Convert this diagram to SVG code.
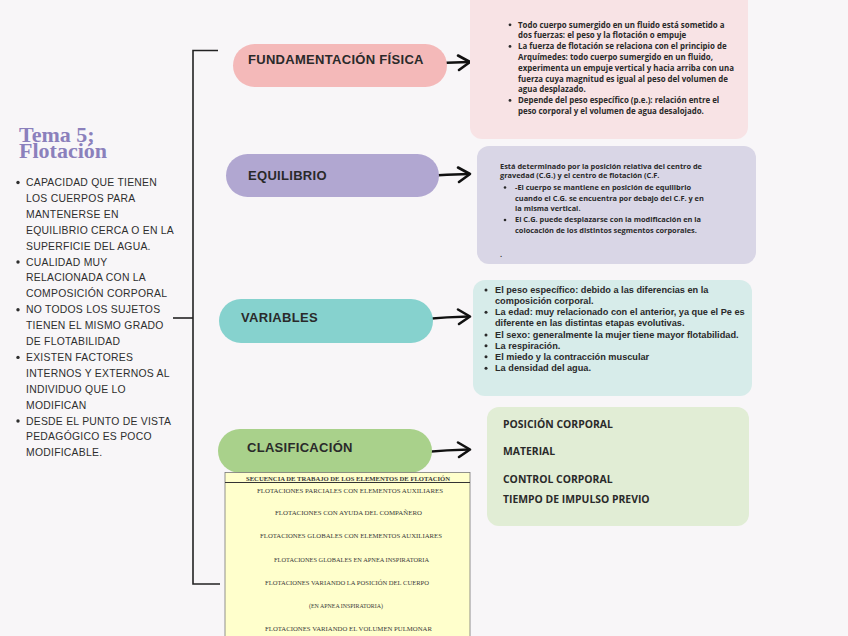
<svg xmlns="http://www.w3.org/2000/svg" width="848" height="636" viewBox="0 0 848 636">
<style>
.bg{fill:#f8f6f8}
.pill{font-family:"Liberation Sans",Arial,sans-serif;font-weight:bold;font-size:13px;fill:#2a2a2a;letter-spacing:0.3px}
.bx{font-family:"Open Sans","Noto Sans",sans-serif;font-weight:bold;fill:#2a2a2a}
.b1{font-size:7.9px}
.b2{font-size:7.4px}
.b3{font-family:"Liberation Sans",Arial,sans-serif;font-size:9.2px}
.b4{font-size:10.4px}
.lst{font-family:"Liberation Sans",Arial,sans-serif;font-size:10.4px;fill:#2e2e2e;letter-spacing:0.25px}
.ttl{font-family:"Liberation Serif","Times New Roman",serif;font-weight:bold;font-size:22px;fill:#8b80bc}
.tb{font-family:"Liberation Serif","Times New Roman",serif;font-size:7px;fill:#3a3a3a}
.con{fill:none;stroke:#111;stroke-width:2.6;stroke-linecap:round;stroke-linejoin:round}
.brk{fill:none;stroke:#222;stroke-width:1.6}
</style>
<rect class="bg" x="0" y="0" width="848" height="636"/>

<g id="title">
<text class="ttl" x="19" y="141.5">Tema 5;<tspan x="19" y="157.5">Flotación</tspan></text>
</g>

<g id="intro-list">
<g fill="#2e2e2e">
<circle cx="18" cy="182.5" r="1.7"/>
<circle cx="18" cy="262" r="1.7"/>
<circle cx="18" cy="309.7" r="1.7"/>
<circle cx="18" cy="357.4" r="1.7"/>
<circle cx="18" cy="421" r="1.7"/>
</g>
<text class="lst" x="26" y="186">CAPACIDAD QUE TIENEN</text>
<text class="lst" x="26" y="201.9">LOS CUERPOS PARA</text>
<text class="lst" x="26" y="217.8">MANTENERSE EN</text>
<text class="lst" x="26" y="233.7">EQUILIBRIO CERCA O EN LA</text>
<text class="lst" x="26" y="249.6">SUPERFICIE DEL AGUA.</text>
<text class="lst" x="26" y="265.5">CUALIDAD MUY</text>
<text class="lst" x="26" y="281.4">RELACIONADA CON LA</text>
<text class="lst" x="26" y="297.3">COMPOSICIÓN CORPORAL</text>
<text class="lst" x="26" y="313.2">NO TODOS LOS SUJETOS</text>
<text class="lst" x="26" y="329.1">TIENEN EL MISMO GRADO</text>
<text class="lst" x="26" y="345">DE FLOTABILIDAD</text>
<text class="lst" x="26" y="360.9">EXISTEN FACTORES</text>
<text class="lst" x="26" y="376.8">INTERNOS Y EXTERNOS AL</text>
<text class="lst" x="26" y="392.7">INDIVIDUO QUE LO</text>
<text class="lst" x="26" y="408.6">MODIFICAN</text>
<text class="lst" x="26" y="424.5">DESDE EL PUNTO DE VISTA</text>
<text class="lst" x="26" y="440.4">PEDAGÓGICO ES POCO</text>
<text class="lst" x="26" y="456.3">MODIFICABLE.</text>
</g>

<g id="connectors">
<path class="brk" d="M218,50.5 H193 V584 H220"/>
<path class="brk" d="M173,318 H193"/>
<path class="con" d="M425,64 Q447,62.5 469,62"/>
<path class="con" d="M458,55.5 L470,62 L459,70"/>
<path class="con" d="M425,176 Q447,174.5 469,174"/>
<path class="con" d="M458,167.5 L470,174 L459,182"/>
<path class="con" d="M425,319 Q447,317 469,316.5"/>
<path class="con" d="M458,309.5 L470,316.5 L459,324"/>
<path class="con" d="M425,452 Q447,450 469,449.5"/>
<path class="con" d="M458,442.5 L470,449.5 L459,457"/>
</g>

<g id="node-fundamentacion">
<rect x="233" y="44" width="214" height="43" rx="21.5" fill="#f4b9b9"/>
<text class="pill" x="248" y="64">FUNDAMENTACIÓN FÍSICA</text>
</g>

<g id="node-equilibrio">
<rect x="226" y="154" width="213" height="43" rx="21.5" fill="#b1a7d1"/>
<text class="pill" x="248" y="180">EQUILIBRIO</text>
</g>

<g id="node-variables">
<rect x="219" y="299" width="214" height="44" rx="22" fill="#86d2ce"/>
<text class="pill" x="241" y="322">VARIABLES</text>
</g>

<g id="node-clasificacion">
<rect x="218" y="429" width="214" height="44" rx="22" fill="#a9d18b"/>
<text class="pill" x="247" y="452">CLASIFICACIÓN</text>
</g>

<g id="box-fundamentacion">
<rect x="470" y="-12" width="278" height="151" rx="12" fill="#f8e3e5"/>
<g fill="#2a2a2a">
<circle cx="510" cy="24.8" r="1.4"/>
<circle cx="510" cy="46.4" r="1.4"/>
<circle cx="510" cy="100.4" r="1.4"/>
</g>
<text class="bx b1" x="518" y="27.5">Todo cuerpo sumergido en un fluido está sometido a</text>
<text class="bx b1" x="518" y="38.3">dos fuerzas: el peso y la flotación o empuje</text>
<text class="bx b1" x="518" y="49.1">La fuerza de flotación se relaciona con el principio de</text>
<text class="bx b1" x="518" y="59.9">Arquímedes: todo cuerpo sumergido en un fluido,</text>
<text class="bx b1" x="518" y="70.7">experimenta un empuje vertical y hacia arriba con una</text>
<text class="bx b1" x="518" y="81.5">fuerza cuya magnitud es igual al peso del volumen de</text>
<text class="bx b1" x="518" y="92.3">agua desplazado.</text>
<text class="bx b1" x="518" y="103.1">Depende del peso específico (p.e.): relación entre el</text>
<text class="bx b1" x="518" y="113.9">peso corporal y el volumen de agua desalojado.</text>
</g>

<g id="box-equilibrio">
<rect x="477" y="146" width="279" height="118" rx="12" fill="#d9d6e6"/>
<g fill="#2a2a2a">
<circle cx="505" cy="187.5" r="1.3"/>
<circle cx="505" cy="220" r="1.3"/>
</g>
<text class="bx b2" x="500" y="168.5">Está determinado por la posición relativa del centro de</text>
<text class="bx b2" x="500" y="177.5">gravedad (C.G.) y el centro de flotación (C.F.</text>
<text class="bx b2" x="515" y="190">-El cuerpo se mantiene en posición de equilibrio</text>
<text class="bx b2" x="515" y="200.6">cuando el C.G. se encuentra por debajo del C.F. y en</text>
<text class="bx b2" x="515" y="211.2">la misma vertical.</text>
<text class="bx b2" x="515" y="222.4">El C.G. puede desplazarse con la modificación en la</text>
<text class="bx b2" x="515" y="233">colocación de los distintos segmentos corporales.</text>
<text class="bx b2" x="500" y="257">.</text>
</g>

<g id="box-variables">
<rect x="473" y="280" width="279" height="116" rx="12" fill="#d7ecea"/>
<g fill="#2a2a2a">
<circle cx="486" cy="290" r="1.5"/>
<circle cx="486" cy="312.3" r="1.5"/>
<circle cx="486" cy="335" r="1.5"/>
<circle cx="486" cy="345.8" r="1.5"/>
<circle cx="486" cy="356.8" r="1.5"/>
<circle cx="486" cy="368.3" r="1.5"/>
</g>
<text class="bx b3" x="495" y="293">El peso específico: debido a las diferencias en la</text>
<text class="bx b3" x="495" y="304">composición corporal.</text>
<text class="bx b3" x="495" y="315.3">La edad: muy relacionado con el anterior, ya que el Pe es</text>
<text class="bx b3" x="495" y="326.3">diferente en las distintas etapas evolutivas.</text>
<text class="bx b3" x="495" y="338">El sexo: generalmente la mujer tiene mayor flotabilidad.</text>
<text class="bx b3" x="495" y="348.8">La respiración.</text>
<text class="bx b3" x="495" y="359.8">El miedo y la contracción muscular</text>
<text class="bx b3" x="495" y="371.3">La densidad del agua.</text>
</g>

<g id="box-clasificacion">
<rect x="487" y="407" width="262" height="119" rx="12" fill="#e1edd5"/>
<text class="bx b4" x="503" y="427.5">POSICIÓN CORPORAL</text>
<text class="bx b4" x="503" y="454.5">MATERIAL</text>
<text class="bx b4" x="503" y="482.5">CONTROL CORPORAL</text>
<text class="bx b4" x="503" y="502.5">TIEMPO DE IMPULSO PREVIO</text>
</g>

<g id="table-secuencia">
<rect x="225" y="472.5" width="245" height="175" fill="#ffffcc" stroke="#777" stroke-width="0.8"/>
<line x1="225" y1="482.5" x2="470" y2="482.5" stroke="#333" stroke-width="1"/>
<text class="tb" x="348" y="480.5" text-anchor="middle" font-weight="bold" textLength="204" lengthAdjust="spacingAndGlyphs">SECUENCIA DE TRABAJO DE LOS ELEMENTOS DE FLOTACIÓN</text>
<text class="tb" x="350" y="493" text-anchor="middle" textLength="186" lengthAdjust="spacingAndGlyphs">FLOTACIONES PARCIALES CON ELEMENTOS AUXILIARES</text>
<text class="tb" x="348.5" y="514.5" text-anchor="middle" textLength="147" lengthAdjust="spacingAndGlyphs">FLOTACIONES CON AYUDA DEL COMPAÑERO</text>
<text class="tb" x="351" y="538" text-anchor="middle" textLength="182" lengthAdjust="spacingAndGlyphs">FLOTACIONES GLOBALES CON ELEMENTOS AUXILIARES</text>
<text class="tb" x="351.5" y="561.5" text-anchor="middle" textLength="155" lengthAdjust="spacingAndGlyphs">FLOTACIONES GLOBALES EN APNEA INSPIRATORIA</text>
<text class="tb" x="347" y="584.5" text-anchor="middle" textLength="164" lengthAdjust="spacingAndGlyphs">FLOTACIONES VARIANDO LA POSICIÓN DEL CUERPO</text>
<text class="tb" x="346" y="607.5" text-anchor="middle" textLength="74" lengthAdjust="spacingAndGlyphs">(EN APNEA INSPIRATORIA)</text>
<text class="tb" x="348.5" y="630.5" text-anchor="middle" textLength="167" lengthAdjust="spacingAndGlyphs">FLOTACIONES VARIANDO EL VOLUMEN PULMONAR</text>
</g>
</svg>
